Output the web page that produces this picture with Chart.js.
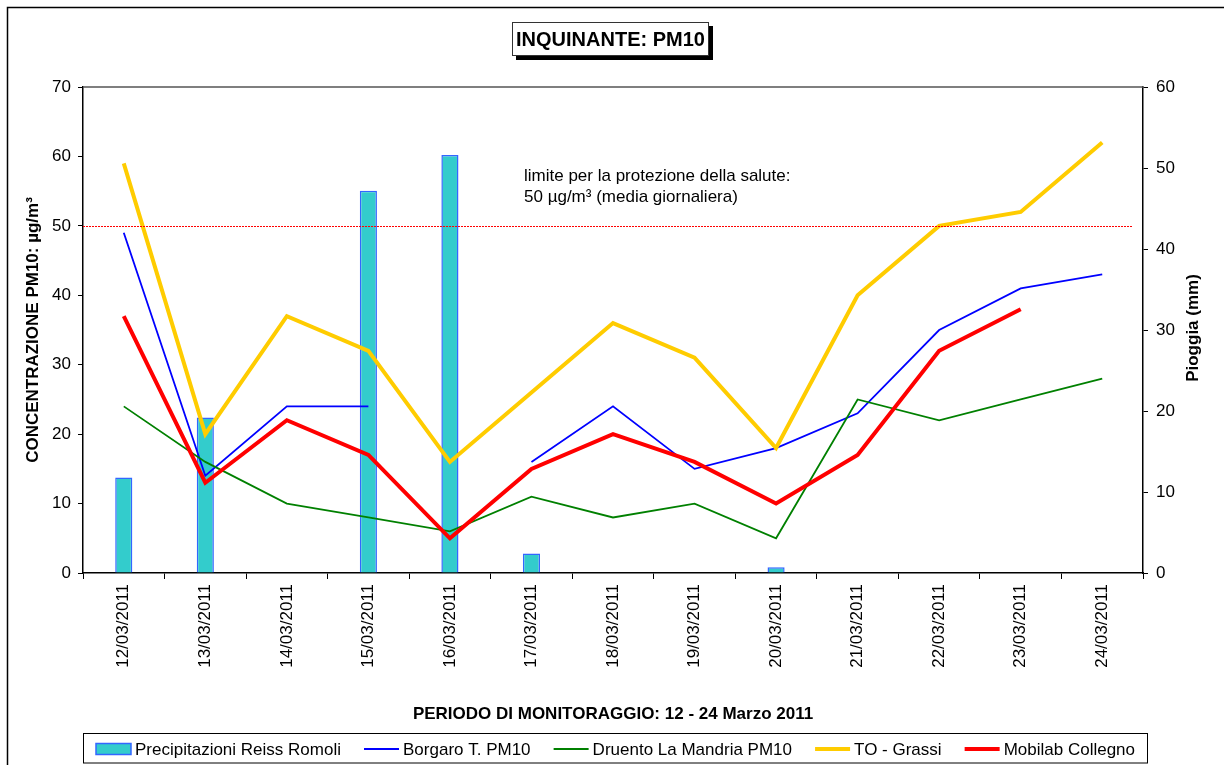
<!DOCTYPE html>
<html>
<head>
<meta charset="utf-8">
<script src="https://cdn.jsdelivr.net/npm/chart.js@4.4.0/dist/chart.umd.min.js"></script>
<style>
  html, body { margin: 0; padding: 0; background: #fff; }
  #wrap { width: 1224px; height: 765px; }
</style>
</head>
<body>
<div id="wrap"><canvas id="chart" width="1224" height="765"></canvas></div>
<script>
// dati del monitoraggio
const dates = ['12/03/2011', '13/03/2011', '14/03/2011', '15/03/2011', '16/03/2011', '17/03/2011', '18/03/2011',
  '19/03/2011', '20/03/2011', '21/03/2011', '22/03/2011', '23/03/2011', '24/03/2011'];
const rain     = [11.8, 19.2, 0, 47.2, 51.6, 2.4, 0, 0, 0.7, 0, 0, 0, 0];
const borgaro  = [49, 14, 24, 24, null, 16, 24, 15, 18, 23, 35, 41, 43];
const druento  = [24, 16, 10, 8, 6, 11, 8, 10, 5, 25, 22, 25, 28];
const toGrassi = [59, 20, 37, 32, 16, 26, 36, 31, 18, 40, 50, 52, 62];
const mobilab  = [37, 13, 22, 17, 5, 15, 20, 16, 10, 17, 32, 38, null];
const limitValue = 50;
const pmTicks = [0, 70];
const rainTicks = [0, 60];

const FONT = "'Liberation Sans', Arial, sans-serif";
Chart.defaults.font.family = FONT;
Chart.defaults.font.size = 17;
Chart.defaults.color = '#000';

const decor = {
  id: 'decor',
  beforeDraw(chart) {
    const ctx = chart.ctx;
    ctx.save();
    ctx.fillStyle = '#fff';
    ctx.fillRect(0, 0, chart.width, chart.height);
    ctx.restore();
  },
  afterDatasetsDraw(chart) {
    const ctx = chart.ctx;
    const area = chart.chartArea;
    const y = chart.scales.y.getPixelForValue(limitValue);
    ctx.save();
    ctx.strokeStyle = '#ff0000';
    ctx.lineWidth = 1;
    ctx.setLineDash([2, 1]);
    ctx.beginPath();
    ctx.moveTo(area.left, Math.round(y) + 0.5);
    ctx.lineTo(area.right - 10, Math.round(y) + 0.5);
    ctx.stroke();
    ctx.restore();
  },
  afterDraw(chart) {
    const ctx = chart.ctx;
    const area = chart.chartArea;
    ctx.save();

    // cornice esterna
    ctx.strokeStyle = '#000';
    ctx.lineWidth = 1.5;
    ctx.strokeRect(7.5, 7.5, 1400, 1000);

    // bordo superiore area grafico
    ctx.strokeStyle = '#555';
    ctx.lineWidth = 1.5;
    ctx.beginPath();
    ctx.moveTo(area.left, area.top);
    ctx.lineTo(area.right, area.top);
    ctx.stroke();

    // titolo con ombra
    ctx.fillStyle = '#000';
    ctx.fillRect(516, 26, 197, 34);
    ctx.fillStyle = '#fff';
    ctx.fillRect(512, 22, 197, 34);
    ctx.strokeStyle = '#333';
    ctx.lineWidth = 1;
    ctx.strokeRect(512.5, 22.5, 196, 33);
    ctx.fillStyle = '#000';
    ctx.font = 'bold 20px ' + FONT;
    ctx.textAlign = 'center';
    ctx.textBaseline = 'middle';
    ctx.fillText('INQUINANTE: PM10', 610.5, 40);

    // nota limite
    ctx.font = '17px ' + FONT;
    ctx.textAlign = 'left';
    ctx.fillText('limite per la protezione della salute:', area.left + 441, 176);
    ctx.fillText('50 \u00b5g/m\u00b3 (media giornaliera)', area.left + 441, 197);

    // titolo asse destro
    ctx.save();
    ctx.translate(1193, 328);
    ctx.rotate(-Math.PI / 2);
    ctx.font = 'bold 17px ' + FONT;
    ctx.textAlign = 'center';
    ctx.fillText('Pioggia (mm)', 0, 0);
    ctx.restore();

    // legenda
    const lx0 = 83.5, lx1 = 1147.5, ly0 = 733.5, ly1 = 763;
    ctx.strokeStyle = '#000';
    ctx.lineWidth = 1;
    ctx.strokeRect(lx0, ly0, lx1 - lx0, ly1 - ly0);
    ctx.font = '17px ' + FONT;
    const sets = chart.data.datasets;
    const sw = 35, tg = 4;
    let sum = 0;
    sets.forEach(d => { sum += sw + tg + ctx.measureText(d.label).width; });
    const gap = (1135 - 96 - sum) / (sets.length - 1);
    let x = 96;
    const cy = 749;
    sets.forEach(d => {
      if (d.type === 'bar') {
        ctx.fillStyle = d.backgroundColor;
        ctx.fillRect(x, cy - 5.5, sw, 11);
        ctx.strokeStyle = d.borderColor;
        ctx.lineWidth = 1.5;
        ctx.strokeRect(x, cy - 5.5, sw, 11);
      } else {
        ctx.strokeStyle = d.borderColor;
        ctx.lineWidth = Math.max(2.2, d.borderWidth);
        ctx.beginPath();
        ctx.moveTo(x, cy);
        ctx.lineTo(x + sw, cy);
        ctx.stroke();
      }
      ctx.fillStyle = '#000';
      ctx.textAlign = 'left';
      ctx.textBaseline = 'middle';
      ctx.fillText(d.label, x + sw + tg, cy + 1);
      x += sw + tg + ctx.measureText(d.label).width + gap;
    });
    ctx.restore();
  }
};

new Chart(document.getElementById('chart'), {
  type: 'bar',
  data: {
    labels: dates,
    datasets: [
      {
        type: 'bar',
        label: 'Precipitazioni Reiss Romoli',
        data: rain,
        yAxisID: 'y2',
        backgroundColor: '#33cccc',
        borderColor: '#3366ff',
        borderWidth: 1.5,
        barPercentage: 0.21,
        categoryPercentage: 1,
        order: 5
      },
      {
        type: 'line',
        label: 'Borgaro T. PM10',
        data: borgaro,
        yAxisID: 'y',
        borderColor: '#0000ff',
        borderWidth: 1.8,
        pointRadius: 0,
        tension: 0,
        spanGaps: false,
        order: 4
      },
      {
        type: 'line',
        label: 'Druento La Mandria PM10',
        data: druento,
        yAxisID: 'y',
        borderColor: '#008000',
        borderWidth: 1.8,
        pointRadius: 0,
        tension: 0,
        order: 3
      },
      {
        type: 'line',
        label: 'TO - Grassi',
        data: toGrassi,
        yAxisID: 'y',
        borderColor: '#ffcc00',
        borderWidth: 4,
        pointRadius: 0,
        tension: 0,
        order: 2
      },
      {
        type: 'line',
        label: 'Mobilab Collegno',
        data: mobilab,
        yAxisID: 'y',
        borderColor: '#ff0000',
        borderWidth: 4,
        pointRadius: 0,
        tension: 0,
        spanGaps: false,
        order: 1
      }
    ]
  },
  plugins: [decor],
  options: {
    responsive: false,
    animation: false,
    devicePixelRatio: 1,
    layout: { padding: { top: 87, left: 0, right: 0, bottom: 0 } },
    plugins: {
      legend: { display: false },
      tooltip: { enabled: false },
      title: { display: false }
    },
    scales: {
      x: {
        type: 'category',
        offset: true,
        grid: { offset: true, drawOnChartArea: false, drawTicks: true, tickLength: 6, color: '#000' },
        border: { display: true, color: '#000', width: 1.5 },
        ticks: { minRotation: 90, maxRotation: 90, padding: 5, autoSkip: false, font: { size: 17 } },
        title: {
          display: true,
          text: 'PERIODO DI MONITORAGGIO: 12 - 24 Marzo 2011',
          font: { size: 17, weight: 'bold' },
          padding: { top: 0, bottom: 40 }
        },
        afterFit(s) { s.height = 192; }
      },
      y: {
        position: 'left',
        min: pmTicks[0],
        max: pmTicks[1],
        grid: { drawOnChartArea: false, drawTicks: true, tickLength: 5, color: '#000' },
        border: { display: true, color: '#000', width: 1.5 },
        ticks: { stepSize: 10, padding: 7, font: { size: 17 } },
        title: {
          display: true,
          text: 'CONCENTRAZIONE PM10: \u00b5g/m\u00b3',
          font: { size: 17, weight: 'bold' },
          padding: { top: 23, bottom: 0 }
        },
        afterFit(s) { s.width = 83; }
      },
      y2: {
        position: 'right',
        min: rainTicks[0],
        max: rainTicks[1],
        grid: { drawOnChartArea: false, drawTicks: true, tickLength: 5, color: '#000' },
        border: { display: true, color: '#000', width: 1.5 },
        ticks: { stepSize: 10, padding: 8, font: { size: 17 } },
        afterFit(s) { s.width = 81; }
      }
    }
  }
});
</script>
</body>
</html>
